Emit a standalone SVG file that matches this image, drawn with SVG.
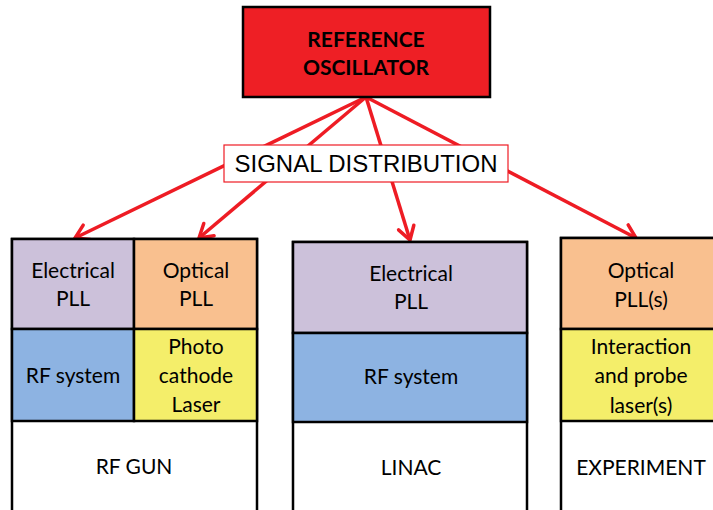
<svg xmlns="http://www.w3.org/2000/svg" width="713" height="510" viewBox="0 0 713 510">
<style>
.cell{stroke:#000;stroke-width:2.5}
.t{font-family:Lato,"Open Sans","Liberation Sans",sans-serif;font-size:21px;fill:#000;text-anchor:middle}
.b{font-family:Lato,"Open Sans","Liberation Sans",sans-serif;font-size:21px;font-weight:bold;fill:#000;text-anchor:middle}
.conn{stroke:#ee1c24;stroke-width:3.5;fill:none;marker-end:url(#ah)}
.lav{fill:#ccc1da}.org{fill:#f9c08f}.blu{fill:#8db3e2}.yel{fill:#f4ee6a}.wht{fill:#fff}
</style>
<defs>
<marker id="ah" markerUnits="userSpaceOnUse" viewBox="-16 -10 20 20" refX="0" refY="0" markerWidth="20" markerHeight="20" orient="auto">
<path d="M-13,-8 L0,0 L-13,8" fill="none" stroke="#ee1c24" stroke-width="3.5" stroke-linecap="round" stroke-linejoin="miter"/>
</marker>
</defs>
<rect width="713" height="510" fill="#fff"/>
<g id="connectors">
<line class="conn" x1="366" y1="97" x2="75" y2="238"/>
<line class="conn" x1="366" y1="97" x2="199" y2="238"/>
<line class="conn" x1="366" y1="97" x2="410" y2="240"/>
<line class="conn" x1="366" y1="97" x2="636" y2="238"/>
</g>
<g id="reference-oscillator">
<rect x="243" y="7" width="247" height="90" fill="#ee1f25" stroke="#000" stroke-width="2.5"/>
<text class="b" x="366" y="47">REFERENCE</text>
<text class="b" x="366" y="75">OSCILLATOR</text>
</g>
<g id="signal-distribution">
<rect x="224" y="145" width="284" height="37" fill="#fff" stroke="#ee1c24" stroke-width="1.2"/>
<text x="366" y="172" font-family="'Liberation Sans',Arial,sans-serif" font-size="24" text-anchor="middle" textLength="263" lengthAdjust="spacingAndGlyphs">SIGNAL DISTRIBUTION</text>
</g>
<g id="rf-gun">
<rect class="cell wht" x="12" y="239" width="245" height="290"/>
<rect class="cell lav" x="12" y="239" width="122" height="90"/>
<rect class="cell org" x="134" y="239" width="123" height="90"/>
<rect class="cell blu" x="12" y="329" width="122" height="92"/>
<rect class="cell yel" x="134" y="329" width="123" height="92"/>
<text class="t" x="73" y="278">Electrical</text>
<text class="t" x="73" y="306">PLL</text>
<text class="t" x="196" y="278">Optical</text>
<text class="t" x="196" y="306">PLL</text>
<text class="t" x="73" y="383">RF system</text>
<text class="t" x="196" y="354">Photo</text>
<text class="t" x="196" y="383">cathode</text>
<text class="t" x="196" y="412">Laser</text>
<text class="t" x="134" y="474">RF GUN</text>
</g>
<g id="linac">
<rect class="cell wht" x="293" y="242" width="234" height="290"/>
<rect class="cell lav" x="293" y="242" width="234" height="91"/>
<rect class="cell blu" x="293" y="333" width="234" height="89"/>
<text class="t" x="411" y="281">Electrical</text>
<text class="t" x="411" y="309">PLL</text>
<text class="t" x="411" y="384">RF system</text>
<text class="t" x="411" y="475">LINAC</text>
</g>
<g id="experiment">
<rect class="cell wht" x="561" y="238" width="162" height="290"/>
<rect class="cell org" x="561" y="238" width="162" height="91"/>
<rect class="cell yel" x="561" y="329" width="162" height="92"/>
<text class="t" x="641" y="278">Optical</text>
<text class="t" x="641" y="307">PLL(s)</text>
<text class="t" x="641" y="354">Interaction</text>
<text class="t" x="641" y="383">and probe</text>
<text class="t" x="641" y="413">laser(s)</text>
<text class="t" x="641" y="475">EXPERIMENT</text>
</g>
</svg>
